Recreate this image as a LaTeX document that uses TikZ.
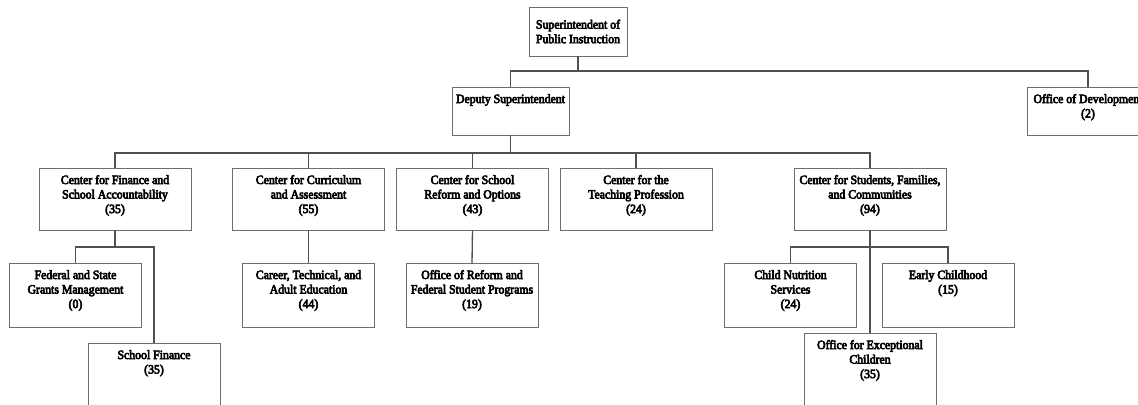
\documentclass[tikz,border=0pt]{standalone}
\usepackage{fontspec}
\newfontfamily\orgf{Liberation Serif}[FakeBold=5,FakeStretch=0.93]
\definecolor{boxc}{HTML}{6E6E6E}
\definecolor{linec}{HTML}{505050}
\newcommand\bx[3]{\parbox[c][#2][t]{#1}{\centering\rule{0pt}{12pt}#3}}
\tikzset{
  org/.style={draw=boxc, line width=0.75pt, inner sep=0pt, outer sep=0pt,
    font=\orgf\fontsize{9.5}{10.9}\selectfont},
  conn/.style={draw=linec, line width=1pt}
}
\begin{document}
\begin{tikzpicture}[x=0.75pt,y=-0.75pt]
\useasboundingbox (0,0) rectangle (1138,404);
\clip (0,0) rectangle (1138,404);
% level 0 / 1
\node[org] (sup) at (578,31.5) {\parbox[c][36.75pt][c]{73.5pt}{\centering Superintendent of\\Public Instruction}};
\node[org] (dep) at (510.5,111) {\bx{87.75pt}{36pt}{Deputy Superintendent}};
\node[org] (dev) at (1088,111) {\bx{91.5pt}{36pt}{Office of Development\\(2)}};
% level 2
\node[org] (c1) at (115,199) {\bx{114pt}{46.5pt}{Center for Finance and\\School Accountability\\(35)}};
\node[org] (c2) at (308.5,199) {\bx{114pt}{46.5pt}{Center for Curriculum\\and Assessment\\(55)}};
\node[org] (c3) at (472.5,199) {\bx{114pt}{46.5pt}{Center for School\\Reform and Options\\(43)}};
\node[org] (c4) at (636,199) {\bx{114pt}{46.5pt}{Center for the\\Teaching Profession\\(24)}};
\node[org] (c5) at (870,199) {\bx{114pt}{46.5pt}{Center for Students, Families,\\and Communities\\(94)}};
% level 3
\node[org] (fed) at (75.5,295) {\bx{99pt}{48pt}{Federal and State\\Grants Management\\(0)}};
\node[org] (sf) at (154,383) {\bx{99pt}{60pt}{School Finance\\(35)}};
\node[org] (car) at (308.5,295) {\bx{99pt}{48pt}{Career, Technical, and\\Adult Education\\(44)}};
\node[org] (ref) at (472,295) {\bx{99pt}{48pt}{Office of Reform and\\Federal Student Programs\\(19)}};
\node[org] (cn) at (790.5,295) {\bx{99pt}{48pt}{Child Nutrition\\Services\\(24)}};
\node[org] (ec) at (948,295) {\bx{99pt}{48pt}{Early Childhood\\(15)}};
\node[org] (exc) at (870,373) {\bx{99pt}{60pt}{Office for Exceptional\\Children\\(35)}};
% junctions
\coordinate (j1) at (578,71);
\coordinate (j2) at (510.5,153);
\coordinate (j3) at (115,247);
\coordinate (j4) at (870,247);
% connectors
\draw[conn] (sup.south) -- (j1);
\draw[conn] (dep.north) |- (j1) -| (dev.north);
\draw[conn] (dep.south) -- (j2);
\draw[conn] (c1.north) |- (j2) -| (c5.north);
\draw[conn] (c2.north) -- (c2.north |- j2);
\draw[conn] (c3.north) -- (c3.north |- j2);
\draw[conn] (c4.north) -- (c4.north |- j2);
\draw[conn] (c1.south) -- (j3);
\draw[conn] (fed.north) |- (j3) -| (sf.north);
\draw[conn] (c2.south) -- (car.north);
\draw[conn] (c3.south) -- (ref.north);
\draw[conn] (c5.south) -- (exc.north);
\draw[conn] (cn.north) |- (j4) -| (ec.north);
\end{tikzpicture}
\end{document}
